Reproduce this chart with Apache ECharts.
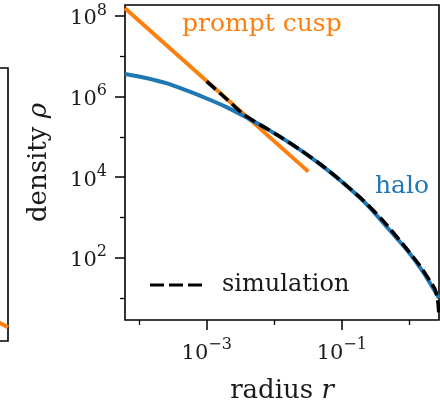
<!DOCTYPE html>
<html><head><meta charset="utf-8">
<script src="https://cdn.jsdelivr.net/npm/echarts@6/dist/echarts.min.js"></script>
<style>html,body{margin:0;padding:0;background:#fff}#c{width:440px;height:405px}</style>
</head><body><div id="c"></div>
<script>
// ---- data ----
const promptR   = [6.17e-5, 3.2e-2];
const promptRho = [1.55e8, 1.37e4];

const haloR   = [6.17e-5, 1.26e-4, 2.51e-4, 5.01e-4, 1.0e-3, 2.0e-3, 3.98e-3, 7.94e-3, 1.58e-2, 3.16e-2, 6.31e-2, 0.126, 0.251, 0.501, 1.0, 1.58, 2.75];
const haloRho = [3.63e6, 2.88e6, 2.14e6, 1.41e6, 8.91e5, 5.37e5, 2.95e5, 1.55e5, 7.59e4, 3.47e4, 1.45e4, 5.50e3, 1.86e3, 501, 132, 45.7, 10.0];

const simR   = [1.0e-3, 2.0e-3, 3.55e-3, 6.31e-3, 1.26e-2, 2.51e-2, 5.01e-2, 0.1, 0.2, 0.398, 0.794, 1.41, 2.0, 2.40, 2.63, 2.75];
const simRho = [2.37e6, 8.41e5, 3.55e5, 1.95e5, 9.77e4, 4.57e4, 2.00e4, 7.76e3, 2.82e3, 871, 224, 66.1, 27.5, 16.6, 8.91, 3.55];

const xLabelTicks = [1e-3, 1e-1];
const xMinorTicks = [1e-4, 1e-2, 1];
const yLabelTicks = [1e2, 1e4, 1e6, 1e8];
const yMinorTicks = [1e1, 1e3, 1e5, 1e7];
const xRange = [6.17e-5, 2.75];
const yRange = [2.86, 1.86e8];

// neighbouring (cropped) panel: tiny orange sliver at its right edge
const sideX = [0.96, 1.0];
const sideY = [0.075, 0.05];

// ---- helpers ----
const L = Math.log10;
const zip = (a, b) => a.map((v, i) => [L(v), L(b[i])]);
const FONT = 'DejaVu Serif';
const INK = '#1a1a1a';
const ORANGE = '#ff7f0e', BLUE = '#1f77b4';

const supFmt = v => {
  const e = Math.round(v);
  return '{b|10}{s|' + (e < 0 ? '\u2212' + (-e) : e) + '}';
};
const rich = {
  b: {fontFamily: FONT, fontSize: 21, color: INK, verticalAlign: 'bottom', lineHeight: 27},
  s: {fontFamily: FONT, fontSize: 16, color: INK, verticalAlign: 'top', lineHeight: 27}
};

const xMin = L(xRange[0]), xMax = L(xRange[1]);
const yMin = L(yRange[0]), yMax = L(yRange[1]);
const mainRect = {left: 125, top: 5, right: 1, bottom: 85};
const noLine = {show: false, onZero: false};

const chart = echarts.init(document.getElementById('c'), null, {renderer: 'canvas'});
chart.setOption({
  animation: false,
  backgroundColor: '#fff',
  grid: [
    Object.assign({show: true, borderColor: '#000', borderWidth: 1.6, backgroundColor: 'transparent',
      containLabel: false, outerBoundsMode: 'none'}, mainRect),
    {left: -300, top: 68, right: 432, bottom: 64, show: true, borderColor: '#000', borderWidth: 1.6,
     backgroundColor: 'transparent', containLabel: false, outerBoundsMode: 'none'},
    Object.assign({show: false, containLabel: false, outerBoundsMode: 'none'}, mainRect)
  ],
  xAxis: [
    {type: 'value', gridIndex: 0, min: xMin, max: xMax, position: 'bottom',
     name: 'radius {i|r}', nameLocation: 'middle', nameGap: 58,
     nameTextStyle: {fontFamily: FONT, fontSize: 26, color: INK,
       rich: {i: {fontFamily: FONT, fontSize: 26, fontStyle: 'italic', color: INK}}},
     axisLine: noLine, splitLine: {show: false},
     axisTick: {show: true, customValues: xLabelTicks.map(L), length: 10, lineStyle: {color: '#000', width: 1.5}},
     axisLabel: {show: true, customValues: xLabelTicks.map(L), margin: 17, formatter: supFmt, rich: rich}},
    {type: 'value', gridIndex: 1, min: 0, max: 1, show: false, axisLine: noLine},
    {type: 'value', gridIndex: 2, min: xMin, max: xMax, position: 'bottom',
     axisLine: noLine, splitLine: {show: false}, axisLabel: {show: false},
     axisTick: {show: true, customValues: xMinorTicks.map(L), length: 5, lineStyle: {color: '#000', width: 1.3}}}
  ],
  yAxis: [
    {type: 'value', gridIndex: 0, min: yMin, max: yMax, position: 'left',
     name: 'density {i|\u03c1}', nameLocation: 'middle', nameGap: 73, nameRotate: 90,
     nameTextStyle: {fontFamily: FONT, fontSize: 26, color: INK,
       rich: {i: {fontFamily: FONT, fontSize: 26, fontStyle: 'italic', color: INK}}},
     axisLine: noLine, splitLine: {show: false},
     axisTick: {show: true, customValues: yLabelTicks.map(L), length: 10, lineStyle: {color: '#000', width: 1.5}},
     axisLabel: {show: true, customValues: yLabelTicks.map(L), margin: 18, formatter: supFmt, rich: rich}},
    {type: 'value', gridIndex: 1, min: 0, max: 1, show: false, axisLine: noLine},
    {type: 'value', gridIndex: 2, min: yMin, max: yMax, position: 'left',
     axisLine: noLine, splitLine: {show: false}, axisLabel: {show: false},
     axisTick: {show: true, customValues: yMinorTicks.map(L), length: 5, lineStyle: {color: '#000', width: 1.3}}}
  ],
  legend: {
    left: 145, top: 268, orient: 'vertical',
    itemWidth: 52, itemHeight: 3.5,
    data: [{name: 'simulation', icon: 'path://M0,0h14v3h-14z M19,0h14v3h-14z M38,0h14v3h-14z'}],
    itemStyle: {color: '#000'},
    textStyle: {fontFamily: FONT, fontSize: 24, color: INK, padding: [0, 0, 0, 15]}
  },
  series: [
    {name: 'prompt cusp', type: 'line', xAxisIndex: 0, yAxisIndex: 0, data: zip(promptR, promptRho),
     showSymbol: false, symbol: 'none', lineStyle: {color: ORANGE, width: 4}, z: 2},
    {name: 'halo', type: 'line', xAxisIndex: 0, yAxisIndex: 0, data: zip(haloR, haloRho),
     showSymbol: false, symbol: 'none', smooth: 0.3, lineStyle: {color: BLUE, width: 4}, z: 3},
    {name: 'simulation', type: 'line', xAxisIndex: 0, yAxisIndex: 0, data: zip(simR, simRho),
     showSymbol: false, symbol: 'none', smooth: 0.2, lineStyle: {color: '#000', width: 3.5, type: [12, 5]}, z: 4},
    {name: 'side', type: 'line', xAxisIndex: 1, yAxisIndex: 1, data: sideX.map((v, i) => [v, sideY[i]]),
     showSymbol: false, symbol: 'none', lineStyle: {color: ORANGE, width: 4}}
  ],
  graphic: [
    {type: 'text', left: 182, top: 12, style: {text: 'prompt cusp', fontFamily: FONT, fontSize: 25, fill: ORANGE}},
    {type: 'text', left: 375, top: 174, style: {text: 'halo', fontFamily: FONT, fontSize: 25, fill: BLUE}}
  ]
});
</script>
</body></html>
